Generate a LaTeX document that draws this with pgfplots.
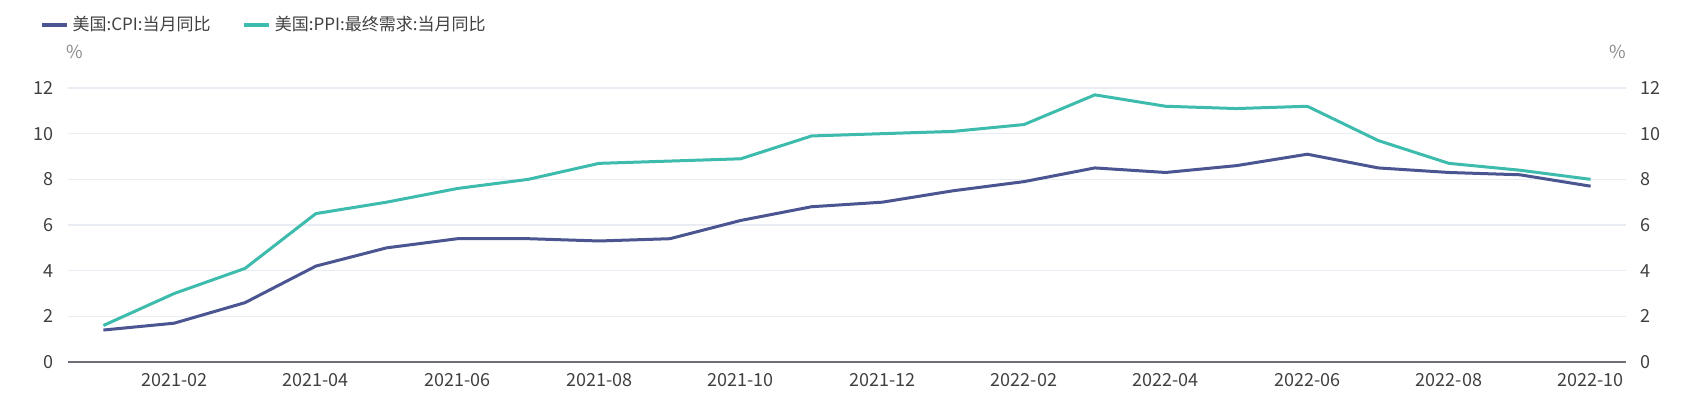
\documentclass[border=0pt]{standalone}
\usepackage{fontspec}
\setmainfont{Noto Sans CJK SC}
\usepackage{pgfplots}
\pgfplotsset{compat=1.18}
\definecolor{cpi}{HTML}{4A5591}
\definecolor{ppi}{HTML}{3DBBAC}
\definecolor{axisgray}{HTML}{6E7079}
\definecolor{gridgray}{HTML}{E9ECF3}
\definecolor{labelgray}{HTML}{404040}
\definecolor{unitgray}{HTML}{8A8A8A}
\begin{document}
\begin{tikzpicture}
\useasboundingbox (-34pt,-15pt) rectangle (812.5pt,181pt);
\pgfplotsset{
  commonstyle/.style={
    scale only axis, width=779pt, height=137pt,
    xmin=-0.5, xmax=21.5, ymin=0, ymax=12,
    ytick={0,2,...,12},
    xtick={1,3,...,21},
    xticklabels={2021-02,2021-04,2021-06,2021-08,2021-10,2021-12,2022-02,2022-04,2022-06,2022-08,2022-10},
    major tick length=0pt,
    tick label style={font=\fontsize{9pt}{10pt}\selectfont, text=labelgray},
    /pgf/number format/assume math mode=true,
  }
}
\begin{axis}[commonstyle,
  at={(0,0)}, anchor=south west,
  clip=false,
  axis x line*=bottom, axis y line*=left,
  y axis line style={draw=none},
  x axis line style={draw=axisgray, line width=0.8pt, -},
  ymajorgrids, grid style={gridgray, line width=0.6pt},
  yticklabel style={xshift=-3.5pt},
  xticklabel style={yshift=-2pt},
  legend columns=2,
  legend style={at={(rel axis cs:0,1)}, anchor=west, xshift=-14pt, yshift=31.5pt,
    draw=none, fill=none, font=\fontsize{8.5pt}{10pt}\selectfont, text=labelgray,
    /tikz/every even column/.append style={column sep=14pt},
    inner sep=0pt},
  legend image code/.code={\draw[#1, line width=1.6pt] (0pt,0pt) -- (12.5pt,0pt);},
]
\addplot[cpi, line width=1.5pt, line join=round] coordinates {
(0,1.4) (1,1.7) (2,2.6) (3,4.2) (4,5.0) (5,5.4) (6,5.4) (7,5.3) (8,5.4)
(9,6.2) (10,6.8) (11,7.0) (12,7.5) (13,7.9) (14,8.5) (15,8.3) (16,8.6)
(17,9.1) (18,8.5) (19,8.3) (20,8.2) (21,7.7)
};
\addlegendentry{美国:CPI:当月同比}
\addplot[ppi, line width=1.5pt, line join=round] coordinates {
(0,1.6) (1,3.0) (2,4.1) (3,6.5) (4,7.0) (5,7.6) (6,8.0) (7,8.7) (8,8.8)
(9,8.9) (10,9.9) (11,10.0) (12,10.1) (13,10.4) (14,11.7) (15,11.2) (16,11.1)
(17,11.2) (18,9.7) (19,8.7) (20,8.4) (21,8.0)
};
\addlegendentry{美国:PPI:最终需求:当月同比}
\node[text=unitgray, font=\fontsize{9pt}{10pt}\selectfont] at (rel axis cs:0,1) [xshift=3.5pt, yshift=18pt] {\%};
\node[text=unitgray, font=\fontsize{9pt}{10pt}\selectfont] at (rel axis cs:1,1) [xshift=-4pt, yshift=18pt] {\%};
\end{axis}
\begin{axis}[commonstyle,
  at={(0,0)}, anchor=south west,
  axis x line=none, axis y line*=right,
  y axis line style={draw=none},
  yticklabel style={xshift=3.5pt, anchor=west},
]
\addplot[draw=none] coordinates {(0,0) (21,12)};
\end{axis}
\end{tikzpicture}
\end{document}
